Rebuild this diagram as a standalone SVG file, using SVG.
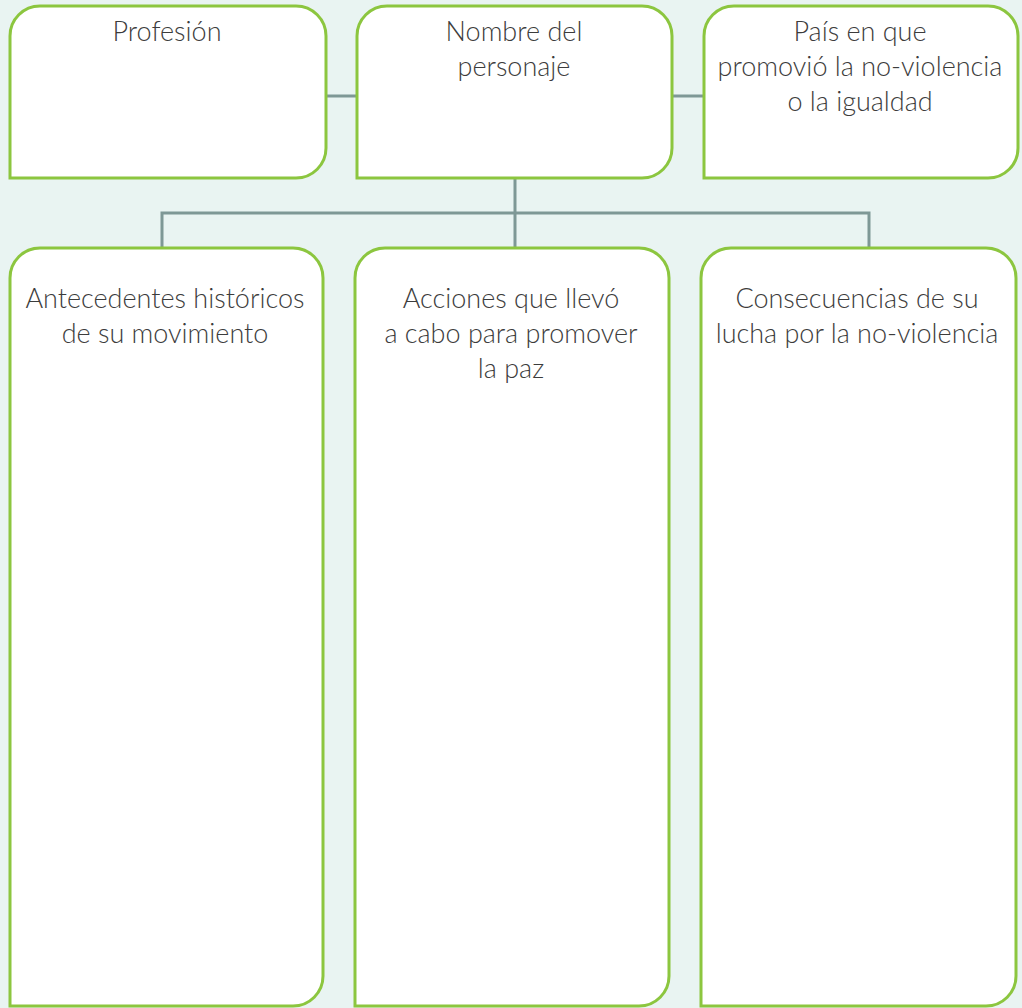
<svg xmlns="http://www.w3.org/2000/svg" width="1022" height="1008" viewBox="0 0 1022 1008">
<style>
.box{fill:#ffffff;stroke:#8cc63f;stroke-width:3}
.conn{fill:none;stroke:#7e9896;stroke-width:3}
text{font-family:Lato,"Open Sans","Liberation Sans",sans-serif;font-weight:300;font-size:27px;fill:#3c3c3c;text-anchor:middle}
</style>
<rect x="0" y="0" width="1022" height="1008" fill="#e9f4f2"/>
<g id="connectors">
<path class="conn" d="M326 96H357M672 96H704M515 178V248M162 248V213H869V248"/>
</g>
<g id="profesion">
<path class="box" d="M10 178V36A30 30 0 0 1 40 6H296A30 30 0 0 1 326 36V148A30 30 0 0 1 296 178Z"/>
<text x="167" y="41">Profesión</text>
</g>
<g id="nombre">
<path class="box" d="M357 178V36A30 30 0 0 1 387 6H642A30 30 0 0 1 672 36V148A30 30 0 0 1 642 178Z"/>
<text x="514" y="41">Nombre del</text>
<text x="514" y="76">personaje</text>
</g>
<g id="pais">
<path class="box" d="M704 178V36A30 30 0 0 1 734 6H988A30 30 0 0 1 1018 36V148A30 30 0 0 1 988 178Z"/>
<text x="860" y="41">País en que</text>
<text x="860" y="76">promovió la no-violencia</text>
<text x="860" y="111">o la igualdad</text>
</g>
<g id="antecedentes">
<path class="box" d="M10 1006V278A30 30 0 0 1 40 248H293A30 30 0 0 1 323 278V976A30 30 0 0 1 293 1006Z"/>
<text x="165" y="308">Antecedentes históricos</text>
<text x="165" y="343">de su movimiento</text>
</g>
<g id="acciones">
<path class="box" d="M355 1006V278A30 30 0 0 1 385 248H639A30 30 0 0 1 669 278V976A30 30 0 0 1 639 1006Z"/>
<text x="511" y="308">Acciones que llevó</text>
<text x="511" y="343">a cabo para promover</text>
<text x="511" y="378">la paz</text>
</g>
<g id="consecuencias">
<path class="box" d="M701 1006V278A30 30 0 0 1 731 248H986A30 30 0 0 1 1016 278V976A30 30 0 0 1 986 1006Z"/>
<text x="857" y="308">Consecuencias de su</text>
<text x="857" y="343">lucha por la no-violencia</text>
</g>
</svg>
